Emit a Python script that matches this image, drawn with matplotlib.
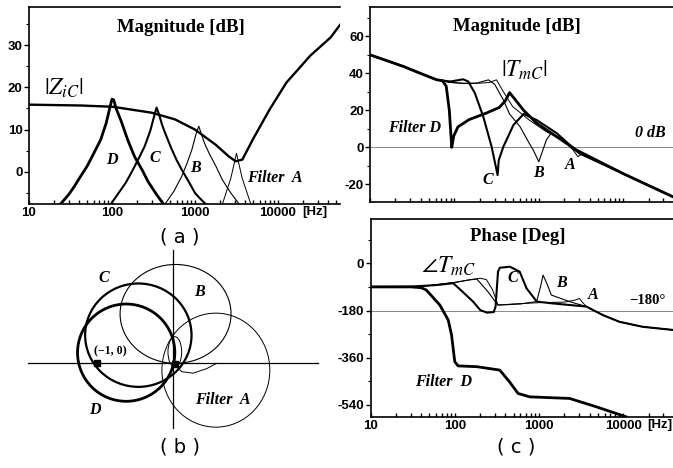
import numpy as np
import matplotlib
matplotlib.use("Agg")
import matplotlib.pyplot as plt
from matplotlib.patches import Ellipse
from matplotlib.ticker import FixedLocator, NullFormatter, LogLocator, MultipleLocator

plt.rcParams["mathtext.fontset"] = "stix"

# ---- (a) |Z_iC| and filter magnitudes [Hz, dB] ----
zic_f = [10, 42, 102, 300, 576, 1000, 1780, 2570, 3100, 3720, 4950, 7940, 12600, 24500, 43000, 56000]
zic_db = [15.9, 15.7, 15.4, 14.0, 12.4, 10.0, 6.4, 3.6, 2.5, 2.9, 7.6, 14.8, 21.1, 27.5, 31.8, 34.8]

fa_D_f = [24, 30, 35, 42, 50, 60, 73, 85, 95, 100, 105, 112, 129, 155, 187, 230, 272, 340, 415]
fa_D_db = [-7.6, -5.4, -3.5, -1.0, 1.3, 4.3, 7.6, 11.5, 15.5, 17.2, 17.0, 15.0, 12.0, 7.5, 3.6, 0.5, -2.3, -5.2, -7.6]
fa_C_f = [97, 120, 145, 170, 205, 247, 290, 320, 344, 370, 400, 436, 520, 600, 693, 850, 1000, 1150, 1340]
fa_C_db = [-7.6, -5.0, -2.7, -0.3, 2.8, 6.0, 9.8, 13.0, 15.2, 13.5, 11.2, 9.2, 5.5, 2.8, 0.5, -2.5, -5.0, -6.3, -7.6]
fa_B_f = [436, 560, 690, 800, 915, 1030, 1110, 1200, 1300, 1470, 1800, 2140, 2700, 3400]
fa_B_db = [-7.6, -4.5, -1.1, 2.0, 5.2, 9.0, 10.8, 8.8, 6.8, 4.5, 1.2, -1.9, -5.0, -7.6]
fa_A_f = [2140, 2700, 3160, 3700, 4700]
fa_A_db = [-7.6, -1.5, 4.4, -1.5, -7.6]

# ---- (c) loop gain magnitude [Hz, dB] ----
tm_D_f = [10, 25, 40, 62, 72, 80, 87, 93, 98, 110, 150, 240, 340, 400, 450, 520, 660, 944, 1630, 2800, 10000, 38900]
tm_D_db = [49.9, 43.6, 39.8, 36.4, 36.0, 33.0, 20.0, 0.0, 6.0, 11.0, 15.0, 18.5, 21.5, 25.0, 29.5, 26.0, 20.0, 13.0, 5.7, -1.5, -14.2, -26.7]
tm_C_f = [10, 25, 40, 62, 90, 127, 146, 175, 220, 276, 325, 335, 380, 500, 660, 944, 1630, 3000, 10000, 38900]
tm_C_db = [49.9, 43.6, 39.8, 36.4, 35.5, 36.7, 35.5, 29.2, 16.5, 0.3, -15.0, -7.0, 0.3, 12.0, 18.0, 14.7, 7.6, -3.2, -14.2, -26.7]
tm_B_f = [10, 25, 40, 62, 90, 130, 183, 253, 300, 380, 450, 600, 770, 860, 1000, 1230, 1400, 1630, 2200, 3000, 10000, 38900]
tm_B_db = [49.9, 43.6, 39.8, 36.4, 35.0, 34.5, 34.6, 36.4, 34.0, 25.6, 18.0, 11.1, 2.2, -1.5, -7.8, 4.0, 7.6, 6.0, 1.5, -3.2, -14.2, -26.7]
tm_A_f = [10, 25, 40, 62, 90, 130, 200, 260, 315, 380, 490, 770, 1230, 1930, 2550, 2900, 3200, 10000, 38900]
tm_A_db = [49.9, 43.6, 39.8, 36.4, 35.0, 34.5, 34.6, 35.0, 36.4, 30.0, 22.0, 14.7, 8.4, 4.0, -1.5, -5.0, -3.8, -14.2, -26.7]

# ---- (c) loop gain phase [Hz, deg] ----
ph_D_f = [10, 30, 40, 46, 66.5, 83.6, 91.6, 100, 109.5, 183, 342, 447, 564, 777, 2300, 4800, 10800]
ph_D_deg = [-90, -90, -93, -102, -159, -216, -273, -375, -391, -394, -407, -452, -496, -509, -515, -547, -585]
ph_C_f = [10, 30, 60, 96, 116, 165, 200, 240, 290, 305, 326, 342, 450, 590, 710, 940, 1470, 3650, 5700, 9000, 17000, 38900]
ph_C_deg = [-90, -89, -83, -76, -100, -146, -178, -188, -186, -165, -32, -17, -13, -32, -95, -146, -153, -165, -197, -223, -242, -254]
ph_B_f = [10, 30, 50, 100, 150, 183, 250, 324, 400, 600, 937, 1040, 1117, 1250, 1400, 2300, 3650, 5700, 9000, 17000, 38900]
ph_B_deg = [-90, -89, -85, -73, -63, -60, -110, -159, -158, -155, -146, -90, -45, -80, -121, -146, -165, -197, -223, -242, -254]
ph_A_f = [10, 30, 50, 100, 150, 200, 237, 280, 326, 500, 1000, 2000, 2700, 3020, 3300, 3650, 5700, 9000, 17000, 38900]
ph_A_deg = [-90, -89, -85, -73, -63, -57, -62, -100, -159, -155, -150, -148, -140, -134, -150, -165, -197, -223, -242, -254]

# ---- (b) Nyquist loops: centre x, centre y, width, height ----
nyq_names = ["D", "C", "B", "A", "inner"]
nyq_cx = [-0.62, -0.46, 0.03, 0.56, 0.02]
nyq_cy = [0.14, 0.37, 0.65, -0.09, 0.15]
nyq_w = [1.28, 1.40, 1.46, 1.42, 0.18]
nyq_h = [1.28, 1.36, 1.30, 1.50, 0.40]
nyq_lw = [2.0, 1.6, 0.8, 0.7, 0.7]
tail_x = [0.02, 0.11, 0.26, 0.44, 0.57]
tail_y = [-0.02, -0.11, -0.13, -0.07, 0.0]
axis_h = [-1.91, 1.90]
axis_v = [-0.85, 1.49]

W, H = 673, 468
fig = plt.figure(figsize=(W / 100, H / 100), dpi=100)

def box(l, t, r, b):
    return [l / W, 1 - b / H, (r - l) / W, (b - t) / H]

tick_font = dict(family="Liberation Sans", weight="bold", size=9.5)
title_font = dict(family="Liberation Serif", weight="bold", size=13.5)
lab_font = dict(family="Liberation Serif", weight="bold", style="italic", size=11.5)

def style_axes(ax, xlabels):
    ax.set_xscale("log")
    ax.xaxis.set_major_locator(FixedLocator([10, 100, 1000, 10000]))
    ax.xaxis.set_minor_locator(LogLocator(base=10, subs=np.arange(2, 10)))
    ax.xaxis.set_minor_formatter(NullFormatter())
    if xlabels:
        ax.set_xticklabels(["10", "100", "1000", "10000"], **tick_font)
        # unit written next to the last tick label
        ax.annotate("[Hz]", xy=(10000, 0), xycoords=("data", "axes fraction"),
                    xytext=(17.5, -1.8), textcoords="offset points",
                    ha="left", va="top", annotation_clip=False, **tick_font)
    else:
        ax.set_xticklabels([])
    ax.tick_params(axis="x", which="both", direction="in", length=3, width=1, pad=2.5)
    ax.tick_params(axis="y", which="major", direction="out", length=3.5, width=1, pad=1)
    ax.tick_params(axis="y", which="minor", direction="out", length=2, width=0.8)
    for s in ["left", "bottom", "top"]:
        ax.spines[s].set_linewidth(1.2)
    ax.spines["right"].set_visible(False)

# ---------- (a) ----------
ax_a = fig.add_axes(box(29, 7, 340, 204))
ax_a.plot(zic_f, zic_db, color="k", lw=1.7)
ax_a.plot(fa_D_f, fa_D_db, color="k", lw=2.0)
ax_a.plot(fa_C_f, fa_C_db, color="k", lw=1.5)
ax_a.plot(fa_B_f, fa_B_db, color="k", lw=0.8)
ax_a.plot(fa_A_f, fa_A_db, color="k", lw=0.7)
ax_a.set_xlim(10, 55800)
ax_a.set_ylim(-7.6, 39)
style_axes(ax_a, True)
ax_a.set_yticks([0, 10, 20, 30])
ax_a.set_yticklabels(["0", "10", "20", "30"], **tick_font)
ax_a.yaxis.set_minor_locator(MultipleLocator(5))
ax_a.text(0.489, 0.898, "Magnitude [dB]", transform=ax_a.transAxes, ha="center", va="center", **title_font)
ax_a.text(26.4, 19.9, r"$|Z_{iC}|$", ha="center", va="center", fontsize=17)
ax_a.text(100, 2.8, "D", ha="center", va="center", **lab_font)
ax_a.text(330, 3.3, "C", ha="center", va="center", **lab_font)
ax_a.text(1000, 0.9, "B", ha="center", va="center", **lab_font)
ax_a.text(4240, -1.4, "Filter  A", ha="left", va="center", **lab_font)

# ---------- (c) magnitude ----------
ax_m = fig.add_axes(box(370, 7, 673, 202))
ax_m.axhline(0, color="#888888", lw=0.7)
ax_m.plot(tm_A_f, tm_A_db, color="k", lw=0.7)
ax_m.plot(tm_B_f, tm_B_db, color="k", lw=0.8)
ax_m.plot(tm_C_f, tm_C_db, color="k", lw=1.5)
ax_m.plot(tm_D_f, tm_D_db, color="k", lw=2.0)
ax_m.set_xlim(10, 38900)
ax_m.set_ylim(-29.5, 75.7)
style_axes(ax_m, False)
ax_m.set_yticks([-20, 0, 20, 40, 60])
ax_m.set_yticklabels(["-20", "0", "20", "40", "60"], **tick_font)
ax_m.yaxis.set_minor_locator(MultipleLocator(10))
ax_m.text(0.484, 0.899, "Magnitude [dB]", transform=ax_m.transAxes, ha="center", va="center", **title_font)
ax_m.text(686, 41.7, r"$|T_{mC}|$", ha="center", va="center", fontsize=17)
ax_m.text(34, 10.4, "Filter D", ha="center", va="center", **lab_font)
ax_m.text(20800, 7.7, "0 dB", ha="center", va="center", **lab_font)
ax_m.text(250, -17.6, "C", ha="center", va="center", **lab_font)
ax_m.text(980, -13.9, "B", ha="center", va="center", **lab_font)
ax_m.text(2350, -9.5, "A", ha="center", va="center", **lab_font)

# ---------- (c) phase ----------
ax_p = fig.add_axes(box(370.5, 219, 673, 416.7))
ax_p.axhline(-180, color="#888888", lw=0.7)
ax_p.plot(ph_A_f, ph_A_deg, color="k", lw=0.7)
ax_p.plot(ph_B_f, ph_B_deg, color="k", lw=0.8)
ax_p.plot(ph_C_f, ph_C_deg, color="k", lw=1.5)
ax_p.plot(ph_D_f, ph_D_deg, color="k", lw=2.0)
ax_p.set_xlim(10, 38900)
ax_p.set_ylim(-584.6, 168.8)
style_axes(ax_p, True)
ax_p.set_yticks([-540, -360, -180, 0])
ax_p.set_yticklabels(["-540", "-360", "-180", "0"], **tick_font)
ax_p.yaxis.set_minor_locator(MultipleLocator(90))
ax_p.text(0.486, 0.914, "Phase [Deg]", transform=ax_p.transAxes, ha="center", va="center", **title_font)
ax_p.text(83, -10, r"$\angle T_{mC}$", ha="center", va="center", fontsize=17)
ax_p.text(488, -56, "C", ha="center", va="center", **lab_font)
ax_p.text(1860, -75, "B", ha="center", va="center", **lab_font)
ax_p.text(4330, -121, "A", ha="center", va="center", **lab_font)
ax_p.text(19400, -140, "\u2212180\u00b0", ha="center", va="center",
          family="Liberation Serif", weight="bold", size=10.5)
ax_p.text(72.6, -452, "Filter  D", ha="center", va="center", **lab_font)

# ---------- (b) Nyquist ----------
ax_b = fig.add_axes(box(20, 240, 330, 440))
ax_b.set_xlim(-2.017, 2.062)
ax_b.set_ylim(-1.009, 1.622)
ax_b.axis("off")
ax_b.plot(axis_h, [0, 0], color="k", lw=0.9)
ax_b.plot([0, 0], axis_v, color="k", lw=0.9)
for cx, cy, w, h, lw in zip(nyq_cx, nyq_cy, nyq_w, nyq_h, nyq_lw):
    ax_b.add_patch(Ellipse((cx, cy), w, h, fill=False, edgecolor="k", lw=lw))
ax_b.plot(tail_x, tail_y, color="k", lw=0.7)
ax_b.plot([-1], [0], marker="s", color="k", ms=4.5)
ax_b.plot([0.02], [-0.01], marker="s", color="k", ms=4)
ax_b.text(-0.92, 1.12, "C", ha="center", va="center", **lab_font)
ax_b.text(0.35, 0.94, "B", ha="center", va="center", **lab_font)
ax_b.text(-0.83, 0.16, "(\u22121, 0)", ha="center", va="center",
          family="Liberation Serif", weight="bold", size=8.5)
ax_b.text(-1.03, -0.61, "D", ha="center", va="center", **lab_font)
ax_b.text(0.65, -0.48, "Filter  A", ha="center", va="center", **lab_font)

# captions
cap = dict(family="DejaVu Sans", size=14, ha="center", va="center")
fig.text(180 / W, 1 - 237 / H, "( a )", **cap)
fig.text(180 / W, 1 - 447 / H, "( b )", **cap)
fig.text(516 / W, 1 - 447 / H, "( c )", **cap)

fig.savefig("out.png", dpi=100, facecolor="white")
